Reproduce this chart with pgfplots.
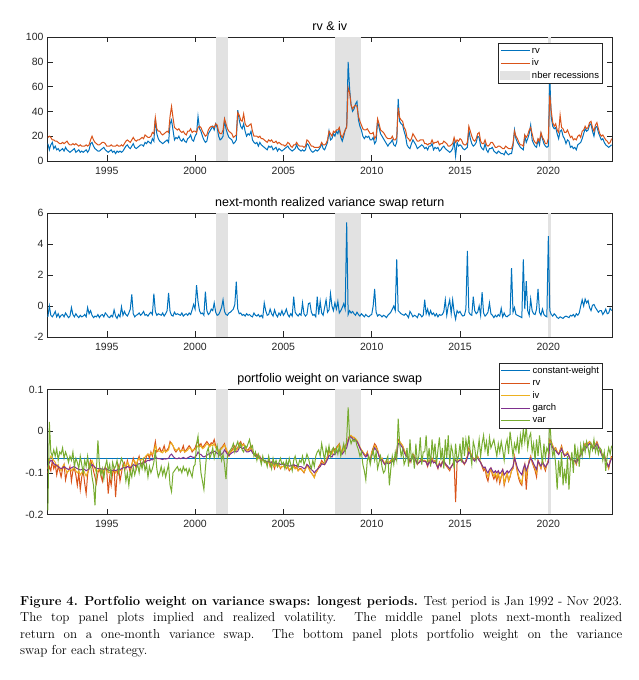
\documentclass[border=0pt]{standalone}
\usepackage{fontspec}
\setsansfont{Liberation Sans}
\usepackage{pgfplots}
\usepackage{pgfplotstable}
\pgfplotsset{compat=1.18}
\definecolor{mblue}{rgb}{0,0.447,0.741}
\definecolor{morange}{rgb}{0.85,0.325,0.098}
\definecolor{myellow}{rgb}{0.929,0.694,0.125}
\definecolor{mpurple}{rgb}{0.494,0.184,0.556}
\definecolor{mgreen}{rgb}{0.466,0.674,0.188}
\definecolor{recess}{rgb}{0.885,0.885,0.885}
\definecolor{axgray}{rgb}{0.15,0.15,0.15}
\newcommand\tickfont{\sffamily\fontsize{10.5bp}{12bp}\selectfont}
\newcommand\titlefont{\sffamily\fontsize{12.5bp}{14bp}\selectfont}
\newcommand\legfont{\sffamily\fontsize{9.5bp}{11bp}\selectfont}
\pgfplotstableread{
m rv iv ret wrv wiv wg wv
20 14 19 -0.70 -0.100 -0.090 -0.085 -0.190
21 9 20 0.00 -0.085 -0.070 -0.075 0.022
22 13 19 -0.60 -0.095 -0.060 -0.070 -0.050
23 15 17 -0.70 -0.070 -0.065 -0.072 -0.060
24 10 17 -0.55 -0.090 -0.070 -0.078 -0.045
25 12 16 -0.35 -0.080 -0.075 -0.080 -0.060
26 9 16 -0.70 -0.105 -0.085 -0.082 -0.042
27 10 15 -0.50 -0.085 -0.080 -0.085 -0.070
28 8 14 -0.75 -0.095 -0.090 -0.088 -0.050
29 9 14 -0.60 -0.110 -0.095 -0.090 -0.055
30 10 15 -0.55 -0.090 -0.085 -0.088 -0.040
31 8 14 -0.70 -0.080 -0.080 -0.085 -0.065
32 11 15 -0.45 -0.117 -0.090 -0.088 -0.050
33 9 16 -0.60 -0.100 -0.100 -0.090 -0.060
34 8 14 -0.75 -0.095 -0.095 -0.092 -0.075
35 7 13 -0.65 -0.085 -0.090 -0.090 -0.060
36 8 13 -0.10 -0.120 -0.095 -0.088 -0.070
37 9 14 -0.55 -0.095 -0.090 -0.086 -0.050
38 10 13 -0.70 -0.090 -0.088 -0.085 -0.085
39 7 14 -0.50 -0.105 -0.095 -0.088 -0.065
40 8 13 -0.65 -0.130 -0.100 -0.090 -0.075
41 9 12 -0.75 -0.100 -0.095 -0.092 -0.090
42 7 13 -0.60 -0.140 -0.105 -0.093 -0.060
43 8 12 -0.70 -0.110 -0.100 -0.092 -0.080
44 7 12 -0.65 -0.095 -0.092 -0.090 -0.100
45 8 12 -0.55 -0.125 -0.100 -0.092 -0.070
46 9 13 -0.70 -0.150 -0.108 -0.095 -0.085
47 7 12 -0.10 -0.105 -0.098 -0.093 -0.060
48 9 13 -0.50 -0.085 -0.090 -0.090 -0.090
49 14 17 -0.30 -0.070 -0.075 -0.085 -0.080
50 15 20 -0.60 -0.080 -0.070 -0.080 -0.110
51 12 17 -0.75 -0.095 -0.080 -0.083 -0.130
52 10 15 -0.65 -0.110 -0.090 -0.087 -0.178
53 9 14 -0.70 -0.125 -0.098 -0.090 -0.090
54 8 13 -0.55 -0.100 -0.095 -0.090 -0.022
55 8 13 -0.75 -0.090 -0.090 -0.089 -0.080
56 9 14 -0.60 -0.105 -0.092 -0.090 -0.105
57 10 15 -0.55 -0.120 -0.100 -0.092 -0.090
58 11 15 -0.70 -0.095 -0.095 -0.091 -0.115
59 9 14 -0.45 -0.085 -0.090 -0.090 -0.085
60 8 12 -0.55 -0.095 -0.092 -0.091 -0.070
61 7 12 -0.70 -0.150 -0.100 -0.093 -0.095
62 8 12 -0.75 -0.110 -0.098 -0.094 -0.080
63 9 13 -0.60 -0.130 -0.102 -0.095 -0.110
64 7 12 -0.70 -0.100 -0.095 -0.094 -0.075
65 8 12 -0.25 -0.090 -0.092 -0.093 -0.090
66 6 12 -0.65 -0.158 -0.100 -0.095 -0.085
67 8 13 -0.80 -0.105 -0.095 -0.093 -0.070
68 7 12 -0.55 -0.085 -0.088 -0.091 -0.100
69 8 12 -0.70 -0.120 -0.095 -0.092 -0.080
70 7 13 -0.05 -0.100 -0.092 -0.090 -0.065
71 8 12 -0.60 -0.080 -0.085 -0.088 -0.075
72 10 14 -0.35 -0.075 -0.080 -0.087 -0.090
73 12 16 -0.55 -0.090 -0.085 -0.088 -0.120
74 13 17 -0.65 -0.070 -0.075 -0.085 -0.100
75 11 16 -0.45 -0.085 -0.080 -0.086 -0.130
76 10 15 -0.20 -0.100 -0.088 -0.088 -0.095
77 12 17 0.75 -0.080 -0.080 -0.085 -0.110
78 14 19 -0.50 -0.065 -0.070 -0.080 -0.085
79 11 17 -0.70 -0.075 -0.072 -0.082 -0.105
80 10 16 -0.60 -0.090 -0.080 -0.083 -0.090
81 11 17 -0.55 -0.070 -0.070 -0.080 -0.080
82 12 17 -0.45 -0.060 -0.065 -0.078 -0.100
83 13 18 -0.60 -0.075 -0.070 -0.079 -0.075
84 13 19 -0.50 -0.080 -0.068 -0.078 -0.090
85 12 18 -0.35 -0.070 -0.065 -0.076 -0.070
86 15 21 -0.60 -0.075 -0.062 -0.075 -0.095
87 14 20 -0.55 -0.060 -0.058 -0.072 -0.080
88 16 19 -0.65 -0.055 -0.055 -0.070 -0.110
89 15 19 -0.50 -0.065 -0.058 -0.071 -0.085
90 14 20 -0.40 -0.050 -0.052 -0.068 -0.100
91 18 23 -0.55 -0.060 -0.055 -0.069 -0.090
92 16 22 0.80 -0.045 -0.050 -0.066 -0.075
93 34 35 -0.35 -0.025 -0.035 -0.060 -0.045
94 22 26 -0.60 -0.050 -0.045 -0.065 -0.090
95 18 24 -0.50 -0.045 -0.048 -0.066 -0.110
96 16 24 -0.55 -0.040 -0.048 -0.066 -0.100
97 15 22 -0.60 -0.050 -0.050 -0.067 -0.085
98 14 21 -0.45 -0.045 -0.052 -0.068 -0.105
99 15 22 -0.65 -0.035 -0.045 -0.066 -0.090
100 16 23 -0.50 -0.050 -0.050 -0.067 -0.110
101 17 24 -0.30 -0.045 -0.048 -0.066 -0.095
102 15 23 0.85 -0.040 -0.045 -0.065 -0.080
103 30 36 -0.35 -0.025 -0.030 -0.058 -0.130
104 33 44 -0.60 -0.030 -0.028 -0.055 -0.145
105 25 35 -0.65 -0.035 -0.035 -0.060 -0.100
106 17 27 -0.40 -0.045 -0.042 -0.064 -0.095
107 19 26 -0.55 -0.050 -0.045 -0.066 -0.090
108 18 25 -0.50 -0.045 -0.045 -0.066 -0.085
109 20 26 -0.55 -0.040 -0.042 -0.064 -0.095
110 17 24 -0.60 -0.050 -0.048 -0.066 -0.090
111 16 23 -0.45 -0.045 -0.047 -0.065 -0.100
112 18 24 -0.65 -0.035 -0.045 -0.063 -0.085
113 16 22 -0.55 -0.050 -0.050 -0.065 -0.095
114 15 21 -0.50 -0.045 -0.048 -0.066 -0.090
115 18 24 -0.60 -0.040 -0.045 -0.064 -0.105
116 19 24 -0.45 -0.035 -0.040 -0.062 -0.090
117 21 26 -0.55 -0.040 -0.042 -0.060 -0.100
118 17 23 -0.25 -0.050 -0.046 -0.062 -0.110
119 16 24 0.10 -0.045 -0.044 -0.063 -0.085
120 20 24 -0.20 -0.040 -0.045 -0.062 -0.080
121 22 23 1.35 -0.030 -0.040 -0.058 -0.030
122 36 27 0.30 -0.025 -0.035 -0.050 -0.012
123 26 28 -0.30 -0.035 -0.038 -0.055 -0.060
124 24 27 -0.50 -0.030 -0.035 -0.056 -0.100
125 20 24 -0.45 -0.040 -0.042 -0.060 -0.120
126 17 22 -0.60 -0.035 -0.040 -0.062 -0.140
127 15 20 0.93 -0.030 -0.035 -0.060 -0.090
128 16 21 -0.30 -0.025 -0.030 -0.058 -0.050
129 22 25 -0.55 -0.030 -0.033 -0.055 -0.040
130 24 27 -0.45 -0.035 -0.038 -0.054 -0.065
131 26 28 -0.20 -0.028 -0.032 -0.050 -0.055
132 28 28 -0.30 -0.030 -0.035 -0.052 -0.040
133 25 27 0.20 -0.020 -0.030 -0.048 -0.065
134 30 30 -0.40 -0.035 -0.040 -0.050 -0.050
135 27 29 -0.60 -0.040 -0.042 -0.053 -0.035
136 20 24 -0.55 -0.050 -0.048 -0.056 -0.060
137 17 22 -0.35 -0.045 -0.045 -0.058 -0.045
138 18 22 -0.10 -0.040 -0.042 -0.055 -0.070
139 20 25 0.40 -0.035 -0.038 -0.052 -0.055
140 33 34 -0.35 -0.030 -0.033 -0.045 -0.080
141 26 30 -0.55 -0.045 -0.040 -0.050 -0.115
142 22 26 -0.60 -0.055 -0.050 -0.055 -0.060
143 19 24 -0.45 -0.060 -0.055 -0.058 -0.050
144 18 23 -0.40 -0.050 -0.050 -0.055 -0.045
145 17 22 -0.30 -0.045 -0.048 -0.052 -0.040
146 14 19 -0.20 -0.040 -0.045 -0.050 -0.030
147 15 20 0.10 -0.035 -0.040 -0.048 -0.050
148 17 21 1.57 -0.045 -0.045 -0.050 -0.035
149 41 39 -0.20 -0.040 -0.042 -0.048 -0.025
150 33 37 -0.50 -0.030 -0.032 -0.040 -0.040
151 28 33 -0.45 -0.025 -0.030 -0.038 -0.030
152 26 32 -0.60 -0.035 -0.035 -0.042 -0.045
153 30 38 -0.55 -0.030 -0.032 -0.040 -0.050
154 24 30 -0.65 -0.040 -0.040 -0.045 -0.035
155 20 28 -0.50 -0.045 -0.045 -0.050 -0.040
156 22 28 -0.60 -0.045 -0.048 -0.050 -0.030
157 21 29 -0.55 -0.040 -0.045 -0.048 -0.020
158 24 30 -0.65 -0.035 -0.040 -0.045 -0.040
159 17 24 -0.70 -0.050 -0.050 -0.052 -0.035
160 15 20 -0.45 -0.055 -0.055 -0.056 -0.060
161 14 20 -0.60 -0.060 -0.058 -0.058 -0.050
162 15 20 -0.65 -0.055 -0.060 -0.060 -0.070
163 12 19 -0.55 -0.065 -0.065 -0.062 -0.055
164 15 20 -0.70 -0.060 -0.062 -0.063 -0.065
165 13 18 -0.60 -0.070 -0.068 -0.066 -0.080
166 12 18 -0.75 -0.065 -0.070 -0.068 -0.060
167 11 17 0.20 -0.072 -0.072 -0.070 -0.075
168 10 16 -0.30 -0.075 -0.075 -0.072 -0.070
169 9 15 -0.60 -0.080 -0.078 -0.074 -0.085
170 12 17 -0.55 -0.070 -0.072 -0.072 -0.060
171 11 16 -0.20 -0.085 -0.080 -0.075 -0.075
172 12 17 -0.50 -0.075 -0.078 -0.074 -0.090
173 9 15 -0.65 -0.080 -0.082 -0.076 -0.065
174 10 15 -0.25 -0.090 -0.085 -0.078 -0.080
175 11 16 -0.55 -0.075 -0.080 -0.076 -0.070
176 8 14 -0.70 -0.085 -0.085 -0.078 -0.085
177 10 15 -0.45 -0.080 -0.082 -0.077 -0.075
178 9 14 -0.60 -0.090 -0.088 -0.080 -0.065
179 8 13 -0.30 -0.085 -0.085 -0.079 -0.080
180 9 13 -0.60 -0.085 -0.085 -0.080 -0.075
181 10 12 -0.45 -0.080 -0.082 -0.079 -0.090
182 11 13 -0.20 -0.090 -0.088 -0.082 -0.070
183 12 15 -0.55 -0.085 -0.085 -0.081 -0.085
184 10 14 -0.70 -0.095 -0.092 -0.084 -0.065
185 9 12 -0.50 -0.090 -0.090 -0.083 -0.080
186 8 11 -0.65 -0.085 -0.088 -0.082 -0.095
187 9 13 0.60 -0.080 -0.085 -0.080 -0.070
188 10 13 -0.40 -0.090 -0.090 -0.083 -0.060
189 13 15 -0.55 -0.085 -0.088 -0.082 -0.075
190 10 13 -0.65 -0.095 -0.095 -0.086 -0.085
191 9 12 -0.50 -0.090 -0.092 -0.085 -0.070
192 8 12 -0.60 -0.090 -0.092 -0.085 -0.075
193 9 12 0.20 -0.095 -0.095 -0.087 -0.060
194 8 11 -0.50 -0.100 -0.098 -0.090 -0.080
195 9 12 -0.65 -0.090 -0.092 -0.088 -0.070
196 14 17 -0.55 -0.080 -0.082 -0.080 -0.055
197 13 16 0.15 -0.085 -0.088 -0.083 -0.065
198 10 14 0.20 -0.095 -0.095 -0.088 -0.080
199 8 12 -0.40 -0.100 -0.100 -0.092 -0.090
200 7 12 -0.60 -0.105 -0.105 -0.095 -0.070
201 8 11 -0.55 -0.110 -0.112 -0.100 -0.085
202 9 11 -0.70 -0.100 -0.100 -0.095 -0.060
203 8 11 0.60 -0.095 -0.095 -0.092 -0.050
204 9 11 -0.55 -0.085 -0.088 -0.088 -0.045
205 11 12 0.30 -0.080 -0.085 -0.085 -0.060
206 14 15 -0.45 -0.070 -0.075 -0.078 -0.030
207 10 13 -0.60 -0.075 -0.078 -0.080 -0.050
208 9 13 -0.10 -0.080 -0.080 -0.080 -0.070
209 12 14 0.40 -0.070 -0.072 -0.075 -0.040
210 15 17 -0.40 -0.060 -0.062 -0.068 -0.055
211 24 24 -0.25 -0.045 -0.050 -0.058 -0.035
212 17 22 0.80 -0.050 -0.052 -0.060 -0.060
213 18 20 0.00 -0.055 -0.055 -0.062 -0.045
214 22 24 -0.30 -0.040 -0.045 -0.055 -0.040
215 20 23 0.20 -0.045 -0.048 -0.056 -0.055
216 24 25 -0.20 -0.040 -0.042 -0.050 -0.040
217 22 25 0.30 -0.035 -0.038 -0.048 -0.055
218 26 27 -0.45 -0.030 -0.032 -0.045 -0.035
219 19 21 -0.30 -0.045 -0.045 -0.052 -0.060
220 16 19 -0.10 -0.050 -0.050 -0.055 -0.045
221 20 22 0.15 -0.040 -0.042 -0.050 -0.030
222 25 25 -0.20 -0.035 -0.038 -0.045 -0.050
223 28 27 5.40 -0.030 -0.032 -0.040 -0.020
224 80 59 -0.55 -0.020 -0.022 -0.025 0.057
225 58 55 -0.30 -0.010 -0.012 -0.012 -0.015
226 45 45 -0.45 -0.012 -0.010 -0.015 -0.030
227 40 42 -0.35 -0.015 -0.014 -0.018 -0.020
228 42 44 -0.50 -0.015 -0.015 -0.020 -0.025
229 46 45 -0.60 -0.020 -0.018 -0.022 -0.020
230 48 44 -0.40 -0.025 -0.022 -0.025 -0.035
231 33 36 -0.55 -0.030 -0.030 -0.032 -0.045
232 28 32 -0.65 -0.040 -0.038 -0.040 -0.060
233 25 29 -0.50 -0.045 -0.045 -0.048 -0.050
234 20 26 -0.60 -0.050 -0.050 -0.052 -0.080
235 18 25 -0.70 -0.055 -0.055 -0.058 -0.095
236 20 25 -0.55 -0.060 -0.058 -0.062 -0.117
237 19 26 -0.65 -0.050 -0.052 -0.055 -0.070
238 20 24 -0.70 -0.065 -0.062 -0.065 -0.060
239 17 22 -0.60 -0.070 -0.068 -0.070 -0.080
240 17 22 -0.55 -0.050 -0.052 -0.058 -0.060
241 19 23 0.00 -0.040 -0.045 -0.050 -0.045
242 14 18 1.10 -0.030 -0.035 -0.040 -0.070
243 16 20 -0.40 -0.035 -0.040 -0.045 -0.050
244 32 34 -0.65 -0.045 -0.045 -0.050 -0.090
245 27 30 -0.55 -0.060 -0.058 -0.060 -0.075
246 22 25 -0.60 -0.070 -0.068 -0.070 -0.060
247 20 24 -0.70 -0.065 -0.065 -0.068 -0.085
248 18 23 -0.60 -0.075 -0.072 -0.075 -0.100
249 16 21 -0.65 -0.080 -0.078 -0.080 -0.095
250 14 19 -0.75 -0.070 -0.072 -0.075 -0.070
251 12 18 -0.60 -0.075 -0.075 -0.078 -0.060
252 14 18 -0.50 -0.075 -0.075 -0.078 -0.130
253 15 18 -0.40 -0.070 -0.072 -0.075 -0.090
254 17 20 -0.20 -0.065 -0.068 -0.072 -0.060
255 13 17 0.00 -0.070 -0.070 -0.073 -0.080
256 12 17 -0.30 -0.060 -0.062 -0.068 -0.050
257 15 19 3.00 -0.050 -0.055 -0.060 -0.070
258 50 43 -0.30 -0.020 -0.025 -0.030 0.030
259 32 35 -0.40 -0.025 -0.025 -0.030 -0.030
260 30 33 -0.50 -0.030 -0.030 -0.035 -0.060
261 29 32 -0.55 -0.035 -0.035 -0.040 -0.045
262 24 27 -0.60 -0.045 -0.045 -0.050 -0.080
263 20 25 -0.50 -0.055 -0.052 -0.058 -0.070
264 13 19 -0.60 -0.060 -0.058 -0.062 -0.040
265 11 18 -0.75 -0.065 -0.062 -0.066 -0.085
266 10 16 -0.35 -0.075 -0.072 -0.072 -0.020
267 14 18 -0.50 -0.065 -0.066 -0.068 -0.070
268 17 22 -0.70 -0.055 -0.058 -0.060 -0.055
269 15 20 -0.60 -0.060 -0.062 -0.064 -0.090
270 13 18 -0.65 -0.070 -0.070 -0.070 -0.030
271 10 16 -0.75 -0.080 -0.078 -0.078 -0.075
272 11 16 -0.50 -0.075 -0.075 -0.076 -0.060
273 12 17 -0.55 -0.070 -0.072 -0.073 -0.015
274 13 17 -0.70 -0.065 -0.068 -0.070 -0.080
275 12 17 -0.60 -0.072 -0.070 -0.072 -0.050
276 10 14 0.40 -0.070 -0.070 -0.072 -0.050
277 11 14 -0.50 -0.075 -0.072 -0.074 -0.010
278 9 13 -0.20 -0.085 -0.080 -0.082 -0.075
279 12 14 -0.60 -0.070 -0.072 -0.074 -0.040
280 12 14 -0.30 -0.080 -0.078 -0.078 -0.085
281 14 17 -0.55 -0.065 -0.068 -0.070 -0.020
282 9 14 -0.45 -0.075 -0.074 -0.076 -0.060
283 11 15 -0.65 -0.070 -0.072 -0.074 -0.030
284 10 15 -0.50 -0.080 -0.078 -0.080 -0.080
285 11 16 -0.70 -0.090 -0.085 -0.088 -0.045
286 8 13 -0.55 -0.075 -0.076 -0.078 -0.015
287 9 14 -0.60 -0.085 -0.082 -0.084 -0.070
288 11 14 -0.55 -0.075 -0.072 -0.074 -0.040
289 12 16 -0.35 -0.070 -0.070 -0.072 -0.090
290 10 15 0.40 -0.080 -0.078 -0.078 -0.020
291 9 14 -0.60 -0.085 -0.082 -0.082 -0.065
292 8 12 0.00 -0.090 -0.088 -0.086 -0.010
293 7 12 0.40 -0.095 -0.092 -0.090 -0.080
294 8 13 -0.50 -0.085 -0.085 -0.086 -0.035
295 10 14 0.40 -0.080 -0.080 -0.080 -0.050
296 16 19 -0.40 -0.075 -0.070 -0.072 -0.090
297 4 15 -0.85 -0.170 -0.068 -0.070 -0.030
298 15 17 -0.30 -0.075 -0.074 -0.075 -0.070
299 12 16 -0.45 -0.070 -0.070 -0.072 -0.060
300 13 18 -0.35 -0.070 -0.068 -0.070 -0.030
301 12 17 -0.55 -0.065 -0.066 -0.068 -0.075
302 10 14 -0.65 -0.075 -0.072 -0.074 -0.015
303 9 13 -0.60 -0.080 -0.078 -0.078 -0.060
304 10 13 -0.20 -0.070 -0.072 -0.074 -0.020
305 11 15 3.55 -0.060 -0.062 -0.064 -0.045
306 25 28 -0.40 -0.040 -0.045 -0.050 -0.010
307 18 24 -0.55 -0.050 -0.052 -0.055 -0.055
308 14 20 -0.60 -0.060 -0.060 -0.062 -0.080
309 12 17 0.60 -0.065 -0.066 -0.068 -0.025
310 13 16 -0.30 -0.070 -0.070 -0.072 -0.040
311 15 18 -0.50 -0.060 -0.062 -0.064 -0.070
312 20 22 -0.40 -0.060 -0.062 -0.065 -0.050
313 19 23 0.00 -0.070 -0.068 -0.070 -0.020
314 12 16 -0.60 -0.075 -0.074 -0.075 -0.060
315 10 14 0.90 -0.085 -0.082 -0.082 -0.030
316 9 14 -0.45 -0.095 -0.090 -0.088 -0.010
317 14 17 -0.65 -0.090 -0.088 -0.086 -0.045
318 9 13 -0.55 -0.110 -0.100 -0.095 -0.025
319 7 12 -0.40 -0.120 -0.110 -0.100 -0.060
320 10 13 0.20 -0.100 -0.098 -0.092 -0.015
321 10 15 -0.50 -0.090 -0.090 -0.088 -0.040
322 11 15 -0.60 -0.105 -0.100 -0.095 -0.030
323 8 13 -0.75 -0.115 -0.108 -0.100 -0.020
324 7 11 -0.60 -0.105 -0.100 -0.095 -0.040
325 6 11 -0.70 -0.120 -0.112 -0.100 -0.060
326 8 12 -0.55 -0.100 -0.100 -0.095 -0.030
327 7 12 -0.65 -0.125 -0.118 -0.102 -0.050
328 6 11 -0.15 -0.110 -0.108 -0.098 -0.025
329 6 10 -0.70 -0.095 -0.095 -0.092 -0.045
330 5 10 -0.45 -0.130 -0.125 -0.105 -0.070
331 8 12 -0.65 -0.115 -0.112 -0.100 -0.035
332 6 11 -0.70 -0.100 -0.100 -0.095 -0.020
333 5 10 -0.60 -0.120 -0.118 -0.100 -0.055
334 6 10 -0.55 -0.110 -0.108 -0.095 -0.001
335 6 10 2.45 -0.095 -0.095 -0.090 -0.030
336 12 14 -0.40 -0.090 -0.088 -0.085 -0.060
337 25 24 -0.10 -0.060 -0.062 -0.065 -0.030
338 18 20 -0.55 -0.080 -0.078 -0.075 -0.045
339 15 18 -0.60 -0.100 -0.095 -0.088 -0.020
340 13 15 -0.65 -0.115 -0.110 -0.095 -0.055
341 11 13 -0.70 -0.125 -0.118 -0.100 -0.010
342 10 13 -0.75 -0.130 -0.125 -0.105 -0.035
343 9 12 3.00 -0.095 -0.095 -0.090 0.005
344 20 21 -0.20 -0.080 -0.082 -0.080 -0.025
345 15 19 1.60 -0.140 -0.110 -0.095 0.011
346 18 21 -0.30 -0.090 -0.088 -0.085 -0.040
347 22 25 -0.60 -0.070 -0.072 -0.075 -0.015
348 29 27 0.45 -0.060 -0.062 -0.065 -0.005
349 17 22 -0.30 -0.075 -0.072 -0.070 -0.050
350 14 17 -0.50 -0.085 -0.082 -0.078 -0.030
351 12 15 -0.55 -0.095 -0.090 -0.085 -0.070
352 11 14 -0.20 -0.110 -0.100 -0.092 -0.020
353 17 18 1.10 -0.070 -0.072 -0.072 -0.060
354 13 16 -0.40 -0.080 -0.080 -0.078 -0.010
355 22 23 -0.60 -0.090 -0.088 -0.084 -0.045
356 18 19 -0.20 -0.070 -0.072 -0.074 -0.080
357 14 17 -0.55 -0.085 -0.082 -0.080 -0.030
358 12 14 -0.65 -0.095 -0.090 -0.086 -0.065
359 11 14 -0.70 -0.080 -0.080 -0.080 -0.040
360 12 18 4.50 -0.070 -0.072 -0.075 -0.050
361 66 53 -0.30 -0.020 -0.025 -0.030 0.025
362 35 40 -0.55 -0.025 -0.028 -0.032 -0.030
363 28 31 -0.65 -0.035 -0.035 -0.040 -0.060
364 26 28 -0.50 -0.045 -0.045 -0.048 -0.045
365 27 30 -0.60 -0.040 -0.042 -0.046 -0.080
366 22 25 -0.75 -0.050 -0.050 -0.052 -0.140
367 18 23 -0.80 -0.055 -0.055 -0.056 -0.070
368 24 37 -0.70 -0.045 -0.048 -0.050 -0.110
369 25 27 -0.75 -0.035 -0.038 -0.042 -0.050
370 20 26 -0.80 -0.050 -0.050 -0.052 -0.130
371 18 23 -0.70 -0.060 -0.058 -0.058 -0.090
372 14 23 -0.65 -0.055 -0.055 -0.058 -0.125
373 17 25 -0.70 -0.050 -0.050 -0.054 -0.060
374 16 22 -0.75 -0.060 -0.058 -0.060 -0.140
375 11 19 -0.60 -0.070 -0.068 -0.068 -0.080
376 12 20 -0.65 -0.065 -0.065 -0.066 -0.050
377 10 17 -0.55 -0.075 -0.072 -0.072 -0.100
378 11 18 -0.70 -0.070 -0.070 -0.070 -0.030
379 9 17 -0.50 -0.080 -0.078 -0.076 -0.070
380 13 20 -0.60 -0.065 -0.066 -0.067 -0.045
381 14 21 -0.45 -0.060 -0.060 -0.062 -0.085
382 15 19 0.00 -0.055 -0.056 -0.058 -0.035
383 18 24 0.40 -0.045 -0.048 -0.050 -0.060
384 22 25 0.00 -0.040 -0.042 -0.045 -0.030
385 26 28 0.45 -0.030 -0.032 -0.036 -0.050
386 24 26 0.20 -0.035 -0.036 -0.040 -0.025
387 25 27 0.35 -0.028 -0.030 -0.034 -0.040
388 29 31 -0.10 -0.025 -0.026 -0.030 -0.060
389 30 32 -0.30 -0.030 -0.030 -0.033 -0.030
390 24 27 0.05 -0.035 -0.036 -0.038 -0.045
391 20 24 0.10 -0.040 -0.040 -0.042 -0.020
392 27 29 -0.10 -0.032 -0.033 -0.036 -0.050
393 28 31 -0.25 -0.025 -0.028 -0.030 -0.035
394 23 26 -0.40 -0.035 -0.036 -0.038 -0.055
395 20 22 -0.30 -0.045 -0.045 -0.046 -0.040
396 17 20 -0.30 -0.050 -0.052 -0.055 -0.045
397 18 21 -0.55 -0.060 -0.060 -0.062 -0.070
398 15 19 -0.40 -0.055 -0.058 -0.060 -0.050
399 13 17 -0.20 -0.070 -0.070 -0.070 -0.095
400 12 16 -0.50 -0.080 -0.078 -0.078 -0.060
401 11 14 -0.45 -0.090 -0.088 -0.085 -0.040
402 12 15 -0.15 -0.070 -0.072 -0.074 -0.055
403 13 18 -0.30 -0.060 -0.062 -0.065 -0.035
}\data
\pgfplotsset{
  mat/.style={
    scale only axis, width=565.5bp, height=124bp,
    xmin=19.4, xmax=403.6,
    xtick={60,120,180,240,300,360},
    xticklabels={1995,2000,2005,2010,2015,2020},
    axis line style={draw=axgray, line width=0.5bp},
    every tick/.style={draw=axgray, line width=0.5bp},
    major tick length=5.5bp,
    tick align=inside,
    ticklabel style={font=\tickfont, text=axgray},
    xticklabel style={yshift=-2.5bp},
    every axis title/.style={at={(0.5,1)}, anchor=base, yshift=6.5bp, font=\titlefont},
    legend style={font=\legfont, draw=axgray, line width=0.5bp, fill=white,
      inner xsep=2bp, inner ysep=1.5bp, row sep=0bp,
      nodes={inner sep=1.6bp, text height=7bp, text depth=2.2bp}},
    legend cell align=left,
    legend image code/.code={\draw[##1] (0bp,0bp) -- (29bp,0bp);},
    every axis plot/.append style={line width=1bp, mark=none},
  }
}
\begin{document}
\begin{tikzpicture}
\useasboundingbox (0,0) rectangle (639bp,680bp);
% ---------- top panel ----------
\begin{axis}[mat, at={(47bp,519bp)}, anchor=south west,
  ymin=0, ymax=100, ytick={0,20,40,60,80,100},
  yticklabels={0,20,40,60,80,100},
  title={rv \& iv},
  legend style={at={(0.983,0.952)}, anchor=north east}]
\addplot[fill=recess, draw=none, forget plot] coordinates {(134.2,0) (134.2,100) (142.2,100) (142.2,0)} -- cycle;
\addplot[fill=recess, draw=none, forget plot] coordinates {(215,0) (215,100) (232.7,100) (232.7,0)} -- cycle;
\addplot[fill=recess, draw=none, forget plot] coordinates {(360,0) (360,100) (361.8,100) (361.8,0)} -- cycle;
\addplot[mblue] table[x=m, y=rv] {\data};
\addplot[morange] table[x=m, y=iv] {\data};
\addlegendimage{legend image code/.code={\fill[recess] (0bp,-4bp) rectangle (29bp,4bp);}}
\legend{rv, iv, nber recessions}
\end{axis}
% ---------- middle panel ----------
\begin{axis}[mat, at={(47bp,343bp)}, anchor=south west,
  ymin=-2, ymax=6, ytick={-2,0,2,4,6},
  yticklabels={-2,0,2,4,6},
  title={next-month realized variance swap return}]
\addplot[fill=recess, draw=none, forget plot] coordinates {(134.2,-2) (134.2,6) (142.2,6) (142.2,-2)} -- cycle;
\addplot[fill=recess, draw=none, forget plot] coordinates {(215,-2) (215,6) (232.7,6) (232.7,-2)} -- cycle;
\addplot[fill=recess, draw=none, forget plot] coordinates {(360,-2) (360,6) (361.8,6) (361.8,-2)} -- cycle;
\addplot[mblue] table[x=m, y=ret] {\data};
\end{axis}
% ---------- bottom panel ----------
\begin{axis}[mat, at={(47bp,165.5bp)}, anchor=south west, height=125bp,
  ymin=-0.2, ymax=0.1, ytick={-0.2,-0.1,0,0.1},
  yticklabels={-0.2,-0.1,0,0.1},
  title={portfolio weight on variance swap},
  legend style={at={(0.983,1.212)}, anchor=north east}]
\addplot[fill=recess, draw=none, forget plot] coordinates {(134.2,-0.2) (134.2,0.1) (142.2,0.1) (142.2,-0.2)} -- cycle;
\addplot[fill=recess, draw=none, forget plot] coordinates {(215,-0.2) (215,0.1) (232.7,0.1) (232.7,-0.2)} -- cycle;
\addplot[fill=recess, draw=none, forget plot] coordinates {(360,-0.2) (360,0.1) (361.8,0.1) (361.8,-0.2)} -- cycle;
\addplot[mblue] coordinates {(20,-0.065) (403,-0.065)};
\addplot[morange] table[x=m, y=wrv] {\data};
\addplot[myellow] table[x=m, y=wiv] {\data};
\addplot[mpurple] table[x=m, y=wg] {\data};
\addplot[mgreen] table[x=m, y=wv] {\data};
\legend{constant-weight, rv, iv, garch, var}
\end{axis}
% ---------- caption ----------
\node[anchor=base west, inner sep=0pt] at (20bp,74.5bp) {\parbox[t]{602bp}{\fontsize{13bp}{16.5bp}\selectfont
\textbf{Figure 4. Portfolio weight on variance swaps: longest periods.} Test period is Jan 1992 - Nov 2023.\linebreak
The top panel plots implied and realized volatility.\ \ The middle panel plots next-month realized\linebreak
return on a one-month variance swap.\ \ The bottom panel plots portfolio weight on the variance\linebreak
swap for each strategy.}};
\end{tikzpicture}
\end{document}
